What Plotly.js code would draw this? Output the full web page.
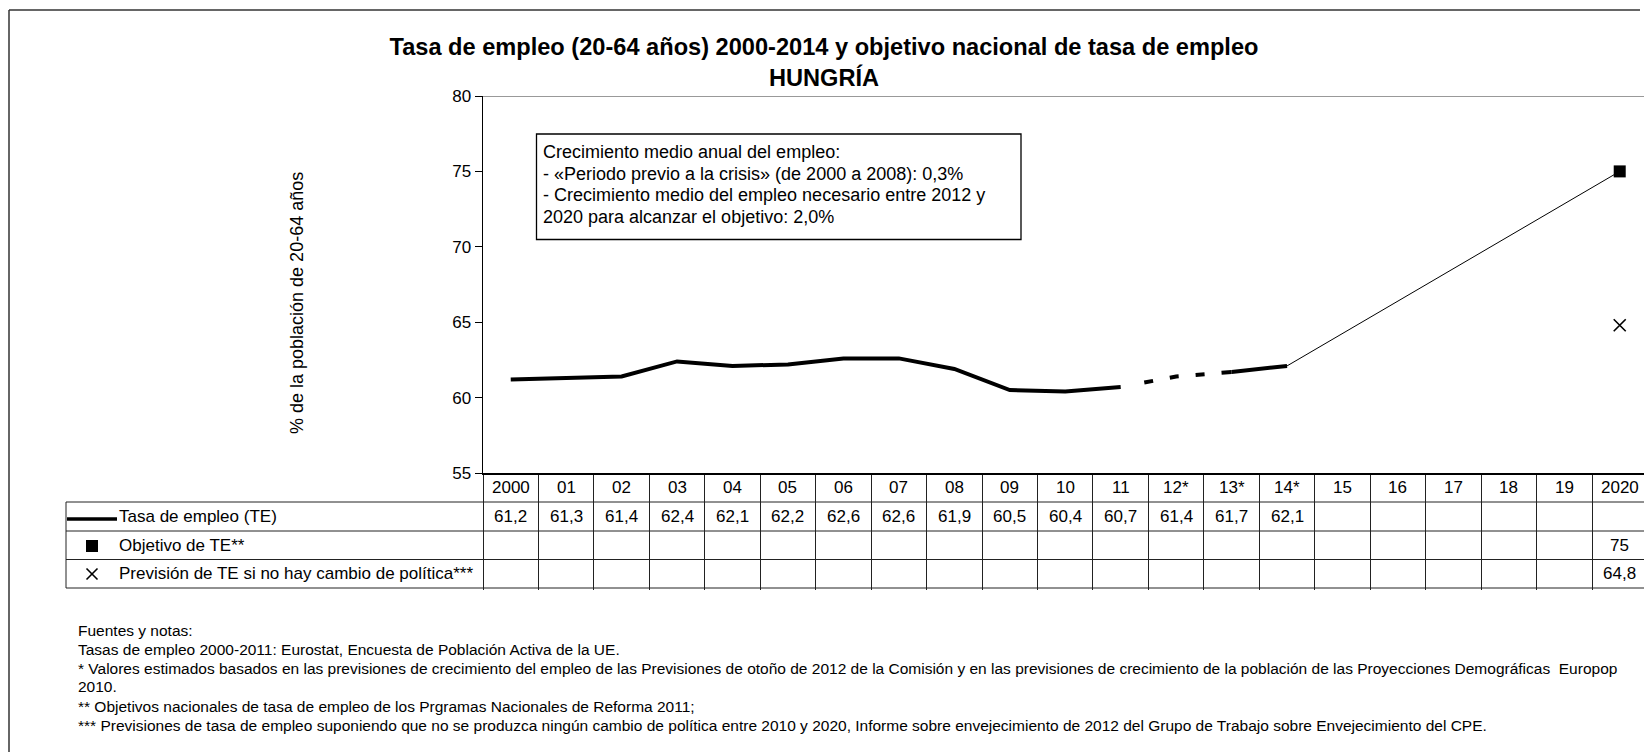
<!DOCTYPE html>
<html>
<head>
<meta charset="utf-8">
<script src="https://cdn.plot.ly/plotly-3.0.1.min.js"></script>
<style>html,body{margin:0;padding:0;background:#fff;overflow:hidden;}</style>
</head>
<body>
<div id="chart" style="width:1644px;height:752px;"></div>
<script>
// ---------- data ----------
const yearLabels = ["2000","01","02","03","04","05","06","07","08","09","10","11","12*","13*","14*","15","16","17","18","19","2020"];
const tasaEmpleo = [61.2,61.3,61.4,62.4,62.1,62.2,62.6,62.6,61.9,60.5,60.4,60.7,61.4,61.7,62.1];
const objetivoTE = 75;
const previsionTE = 64.8;
const rowLabels = ["Tasa de empleo (TE)","Objetivo de TE**","Previsión de TE si no hay cambio de política***"];
const boxLines = [
  "Crecimiento medio anual del empleo:",
  "- «Periodo previo a la crisis» (de 2000 a 2008): 0,3%",
  "- Crecimiento medio del empleo necesario entre 2012 y",
  "2020 para alcanzar el objetivo: 2,0%"
];
const notes = [
  "Fuentes y notas:",
  "Tasas de empleo 2000-2011: Eurostat, Encuesta de Población Activa de la UE.",
  "* Valores estimados basados en las previsiones de crecimiento del empleo de las Previsiones de otoño de 2012 de la Comisión y en las previsiones de crecimiento de la población de las Proyecciones Demográficas  Europop",
  "2010.",
  "** Objetivos nacionales de tasa de empleo de los Prgramas Nacionales de Reforma 2011;",
  "*** Previsiones de tasa de empleo suponiendo que no se produzca ningún cambio de política entre 2010 y 2020, Informe sobre envejecimiento de 2012 del Grupo de Trabajo sobre Envejecimiento del CPE."
];

// ---------- geometry helpers ----------
const W = 1644, H = 752;
const M = {l: 483, r: 0, t: 96, b: 279, pad: 0};
const px = x => (x - M.l) / (W - M.l - M.r);
const py = y => (H - M.b - y) / (H - M.t - M.b);
const FONT = "Liberation Sans, Arial, Helvetica, sans-serif";
const fmt = v => Number.isInteger(v) ? String(v) : v.toFixed(1).replace('.', ',');

const idx = tasaEmpleo.map((_, i) => i);
const last = yearLabels.length - 1;

// segments of the employment-rate line
const solidA = {x: idx.slice(0, 12), y: tasaEmpleo.slice(0, 12)};
const dashed = {x: idx.slice(11, 14), y: tasaEmpleo.slice(11, 14)};
const solidB = {x: idx.slice(13, 15), y: tasaEmpleo.slice(13, 15)};

const traces = [
  {type:'scatter', mode:'lines', x: solidA.x, y: solidA.y, line:{color:'#000', width:4}, hoverinfo:'skip'},
  {type:'scatter', mode:'lines', x: dashed.x, y: dashed.y, line:{color:'#000', width:4, dash:'0px,24px,9px,17px,9px,17px,9px,17px,40px'}, hoverinfo:'skip'},
  {type:'scatter', mode:'lines', x: solidB.x, y: solidB.y, line:{color:'#000', width:4}, hoverinfo:'skip'},
  {type:'scatter', mode:'lines', x: [idx[idx.length-1], last], y: [tasaEmpleo[tasaEmpleo.length-1], objetivoTE], line:{color:'#000', width:1}, hoverinfo:'skip'},
  {type:'scatter', mode:'markers', x: [last], y: [objetivoTE], marker:{symbol:'square', size:12, color:'#000'}, hoverinfo:'skip'},
  {type:'scatter', mode:'markers', x: [last], y: [previsionTE], marker:{symbol:'x-thin-open', size:12, color:'#000', line:{color:'#000', width:1.6}}, hoverinfo:'skip'}
];

// ---------- table ----------
const rowTop = [473, 502, 531, 559.5, 588];
const annotations = [];
const shapes = [];

yearLabels.forEach((lab, i) => {
  annotations.push({xref:'x', yref:'paper', x:i, y:py((rowTop[0]+rowTop[1])/2), text:lab, showarrow:false,
    xanchor:'center', yanchor:'middle', font:{family:FONT, size:17, color:'#000'}});
});
tasaEmpleo.forEach((v, i) => {
  annotations.push({xref:'x', yref:'paper', x:i, y:py((rowTop[1]+rowTop[2])/2), text:fmt(v), showarrow:false,
    xanchor:'center', yanchor:'middle', font:{family:FONT, size:17, color:'#000'}});
});
annotations.push({xref:'x', yref:'paper', x:last, y:py((rowTop[2]+rowTop[3])/2), text:fmt(objetivoTE), showarrow:false,
  xanchor:'center', yanchor:'middle', font:{family:FONT, size:17, color:'#000'}});
annotations.push({xref:'x', yref:'paper', x:last, y:py((rowTop[3]+rowTop[4])/2), text:fmt(previsionTE), showarrow:false,
  xanchor:'center', yanchor:'middle', font:{family:FONT, size:17, color:'#000'}});

rowLabels.forEach((lab, r) => {
  annotations.push({xref:'paper', yref:'paper', x:px(117), y:py((rowTop[r+1]+rowTop[r+2])/2), text:lab, showarrow:false,
    xanchor:'left', yanchor:'middle', font:{family:FONT, size:17, color:'#000'}});
});

// horizontal table rules
[1,2,3,4].forEach(k => {
  shapes.push({type:'line', xref:'paper', yref:'paper', x0:px(66), x1:1, y0:py(rowTop[k]), y1:py(rowTop[k]),
    line:{color:'#222', width:1}});
});
shapes.push({type:'line', xref:'paper', yref:'paper', x0:px(66), x1:px(66), y0:py(rowTop[1]), y1:py(rowTop[4]),
  line:{color:'#222', width:1}});

// legend keys
shapes.push({type:'line', xref:'paper', yref:'paper', x0:px(67), x1:px(117), y0:py(519), y1:py(519), line:{color:'#000', width:3.5}});
shapes.push({type:'rect', xref:'paper', yref:'paper', x0:px(86), x1:px(98), y0:py(540), y1:py(552), line:{width:0}, fillcolor:'#000'});
shapes.push({type:'line', xref:'paper', yref:'paper', x0:px(86.5), x1:px(97.5), y0:py(568.5), y1:py(579.5), line:{color:'#000', width:1.6}});
shapes.push({type:'line', xref:'paper', yref:'paper', x0:px(86.5), x1:px(97.5), y0:py(579.5), y1:py(568.5), line:{color:'#000', width:1.6}});

// top frame line at 80 (gray)
shapes.push({type:'line', xref:'paper', yref:'y', x0:0, x1:1, y0:80, y1:80, line:{color:'#999', width:2}});

// outer border (top and left edges; right/bottom fall outside the picture)
shapes.push({type:'line', xref:'paper', yref:'paper', x0:px(9), x1:px(1640), y0:py(10), y1:py(10),
  line:{color:'#333', width:1.5}, layer:'below'});
shapes.push({type:'line', xref:'paper', yref:'paper', x0:px(9), x1:px(9), y0:py(10), y1:py(H),
  line:{color:'#333', width:1.5}, layer:'below'});

// y-axis title
annotations.push({xref:'paper', yref:'paper', x:px(297), y:py(303), text:'% de la población de 20-64 años', textangle:-90,
  showarrow:false, xanchor:'center', yanchor:'middle', font:{family:FONT, size:18, color:'#000'}});

// text box
shapes.push({type:'rect', xref:'paper', yref:'paper', x0:px(536.5), x1:px(1021), y0:py(134), y1:py(239.5),
  line:{color:'#000', width:1.3}, fillcolor:'#fff', layer:'below'});
const boxY = [152, 173.7, 195.3, 217];
boxLines.forEach((t, k) => {
  annotations.push({xref:'paper', yref:'paper', x:px(541), y:py(boxY[k]), xanchor:'left', yanchor:'middle',
    text:t, align:'left', showarrow:false, font:{family:FONT, size:18, color:'#000'}});
});

// notes
const noteY = [630, 649, 668, 687, 706, 725];
notes.forEach((t, k) => {
  annotations.push({xref:'paper', yref:'paper', x:px(76), y:py(noteY[k]), text:t, showarrow:false,
    xanchor:'left', yanchor:'middle', align:'left', font:{family:FONT, size:15.5, color:'#000'}});
});

const boundaries = yearLabels.map((_, i) => i - 0.5);

const layout = {
  width: W, height: H,
  margin: M,
  paper_bgcolor:'#fff', plot_bgcolor:'#fff',
  showlegend:false,
  font:{family:FONT, size:17, color:'#000'},
  title:{
    text:'<b>Tasa de empleo (20-64 años) 2000-2014 y objetivo nacional de tasa de empleo<br>HUNGRÍA</b>',
    font:{family:FONT, size:23.6, color:'#000'},
    x: 824/W, xref:'container', xanchor:'center',
    y: 1 - 55/H, yref:'container', yanchor:'middle'
  },
  xaxis:{
    range:[-0.5, -0.5 + (W - M.l - M.r)/55.45], showgrid:false, zeroline:false,
    showline:true, linecolor:'#000', linewidth:1.5,
    tickmode:'array', tickvals: boundaries, ticks:'outside', ticklen: rowTop[4]-rowTop[0], tickcolor:'#222', tickwidth:1,
    showticklabels:false, fixedrange:true
  },
  yaxis:{
    range:[55, 80], showgrid:false, zeroline:false,
    showline:true, linecolor:'#000', linewidth:1.5,
    tickmode:'array', tickvals:[55,60,65,70,75,80], ticks:'outside', ticklen:7, tickcolor:'#000', tickwidth:1,
    tickfont:{family:FONT, size:17, color:'#000'}, fixedrange:true
  },
  shapes: shapes,
  annotations: annotations
};

Plotly.newPlot('chart', traces, layout, {displayModeBar:false, staticPlot:true});
</script>
</body>
</html>
